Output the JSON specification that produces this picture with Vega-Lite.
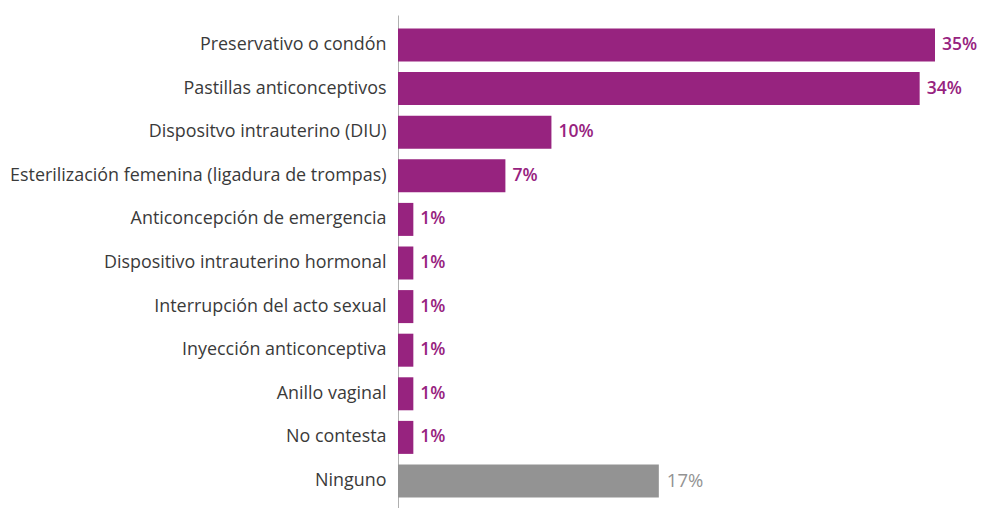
{
  "$schema": "https://vega.github.io/schema/vega-lite/v6.json",
  "autosize": "none",
  "width": 537,
  "height": 496,
  "padding": {"left": 398, "top": 15, "right": 47, "bottom": 0},
  "background": "white",
  "config": {"view": {"stroke": null}, "font": "Open Sans"},
  "data": {"values": [
    {"metodo": "Preservativo o condón", "valor": 0.35, "tipo": "uso"},
    {"metodo": "Pastillas anticonceptivos", "valor": 0.34, "tipo": "uso"},
    {"metodo": "Dispositvo intrauterino (DIU)", "valor": 0.10, "tipo": "uso"},
    {"metodo": "Esterilización femenina (ligadura de trompas)", "valor": 0.07, "tipo": "uso"},
    {"metodo": "Anticoncepción de emergencia", "valor": 0.01, "tipo": "uso"},
    {"metodo": "Dispositivo intrauterino hormonal", "valor": 0.01, "tipo": "uso"},
    {"metodo": "Interrupción del acto sexual", "valor": 0.01, "tipo": "uso"},
    {"metodo": "Inyección anticonceptiva", "valor": 0.01, "tipo": "uso"},
    {"metodo": "Anillo vaginal", "valor": 0.01, "tipo": "uso"},
    {"metodo": "No contesta", "valor": 0.01, "tipo": "uso"},
    {"metodo": "Ninguno", "valor": 0.17, "tipo": "ninguno"}
  ]},
  "encoding": {
    "y": {"field": "metodo", "type": "nominal", "sort": null,
      "scale": {"paddingInner": 0.243, "paddingOuter": 0.31},
      "axis": {"title": null, "ticks": false, "labelFontSize": 17.9, "labelColor": "#3a3a3a",
        "labelPadding": 12, "domainColor": "#b0b0b0", "domainWidth": 1, "labelLimit": 500, "labelFont": "Open Sans"}},
    "x": {"field": "valor", "type": "quantitative", "scale": {"domain": [0, 0.35], "nice": false}, "axis": null}
  },
  "layer": [
    {"mark": {"type": "bar"},
     "encoding": {"color": {"field": "tipo", "type": "nominal", "scale": {"domain": ["uso", "ninguno"], "range": ["#97237F", "#939393"]}, "legend": null}}},
    {"transform": [{"filter": "datum.tipo === 'uso'"}],
     "mark": {"type": "text", "align": "left", "dx": 7, "fontSize": 17.5, "fontWeight": 600, "color": "#97237F", "font": "Open Sans"},
     "encoding": {"text": {"field": "valor", "type": "quantitative", "format": ".0%"}}},
    {"transform": [{"filter": "datum.tipo === 'ninguno'"}],
     "mark": {"type": "text", "align": "left", "dx": 8, "fontSize": 18.5, "color": "#939393", "font": "Open Sans"},
     "encoding": {"text": {"field": "valor", "type": "quantitative", "format": ".0%"}}}
  ]
}
